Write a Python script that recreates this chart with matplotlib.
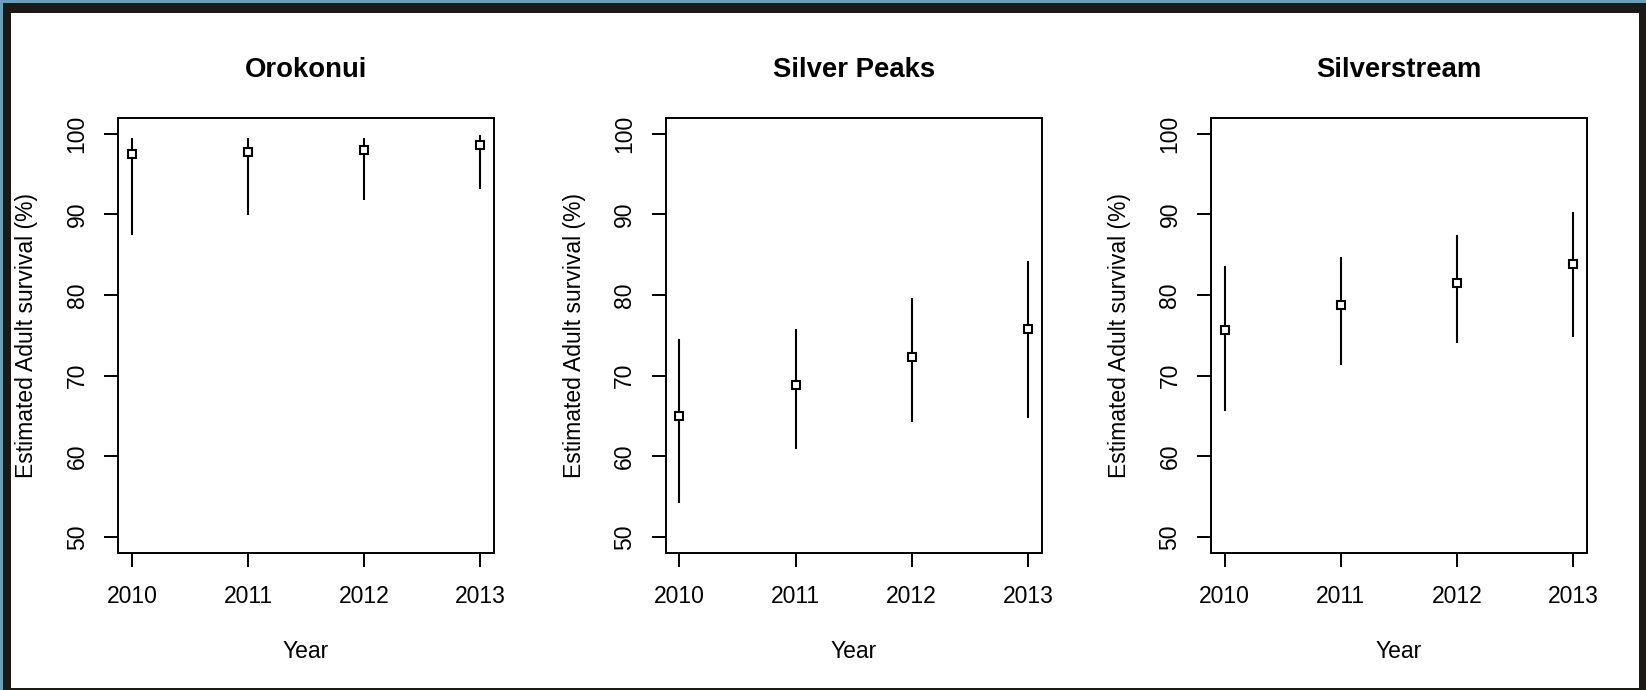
import numpy as np
import matplotlib
matplotlib.use("Agg")
import matplotlib.pyplot as plt
from matplotlib.patches import Rectangle

# Data (estimate, lower and upper bound, %)
years = [2010, 2011, 2012, 2013]
sites = ['Orokonui', 'Silver Peaks', 'Silverstream']

orokonui_est = [97.5, 97.7, 98.0, 98.6]
orokonui_lo = [87.5, 89.9, 91.8, 93.1]
orokonui_hi = [99.5, 99.5, 99.5, 99.8]

silverpeaks_est = [65.0, 68.8, 72.3, 75.8]
silverpeaks_lo = [54.2, 60.9, 64.2, 64.7]
silverpeaks_hi = [74.5, 75.8, 79.6, 84.2]

silverstream_est = [75.7, 78.8, 81.5, 83.9]
silverstream_lo = [65.6, 71.3, 74.0, 74.8]
silverstream_hi = [83.6, 84.7, 87.4, 90.3]

y_ticks = [50, 60, 70, 80, 90, 100]

plt.rcParams['font.family'] = ['Liberation Sans', 'DejaVu Sans']

W, H = 1646, 690
fig = plt.figure(figsize=(W / 100, H / 100), dpi=100)
fig.patch.set_facecolor('#6c9fb9')

# dark window frame with white plotting area
fig.add_artist(Rectangle((3 / W, 0), 1 - 3 / W, (H - 3) / H, transform=fig.transFigure,
                         facecolor='#1c1a17', edgecolor='none', zorder=-2))
fig.add_artist(Rectangle((11 / W, 2 / H), (1639 - 11) / W, (688 - 13) / H, transform=fig.transFigure,
                         facecolor='white', edgecolor='none', zorder=-1))

series = [
    (orokonui_est, orokonui_lo, orokonui_hi),
    (silverpeaks_est, silverpeaks_lo, silverpeaks_hi),
    (silverstream_est, silverstream_lo, silverstream_hi),
]

lefts = [117.9, 665.5, 1210.6]
ax_w = 376.3
ax_top, ax_bottom = 117.7, 553.0

for i, (name, (est, lo, hi)) in enumerate(zip(sites, series)):
    ax = fig.add_axes([lefts[i] / W, (H - ax_bottom) / H, ax_w / W, (ax_bottom - ax_top) / H])
    ax.set_facecolor('none')

    # vertical interval lines, then open squares on top
    ax.vlines(years, lo, hi, colors='black', linewidth=1.5, zorder=2)
    ax.plot(years, est, linestyle='none', marker='s', markersize=5.5,
            markerfacecolor='white', markeredgecolor='black', markeredgewidth=1.5, zorder=3)

    ax.set_xlim(2009.88, 2013.12)
    ax.set_ylim(48, 102)
    ax.set_xticks(years)
    ax.set_xticklabels([str(y) for y in years])
    ax.set_yticks(y_ticks)
    ax.set_yticklabels([str(t) for t in y_ticks], rotation=90, va='center')

    for sp in ax.spines.values():
        sp.set_linewidth(1.4)
    ax.tick_params(axis='both', length=10, width=1.4, labelsize=16.5)
    ax.tick_params(axis='x', pad=13)
    ax.tick_params(axis='y', pad=11)

    ax.set_title(name, fontsize=19.8, fontweight='bold', pad=29)
    ax.set_xlabel('Year', fontsize=16.5, labelpad=23)
    ax.set_ylabel('Estimated Adult survival (%)', fontsize=16.5, labelpad=20)

plt.savefig('out.png', dpi=100, facecolor=fig.get_facecolor())
